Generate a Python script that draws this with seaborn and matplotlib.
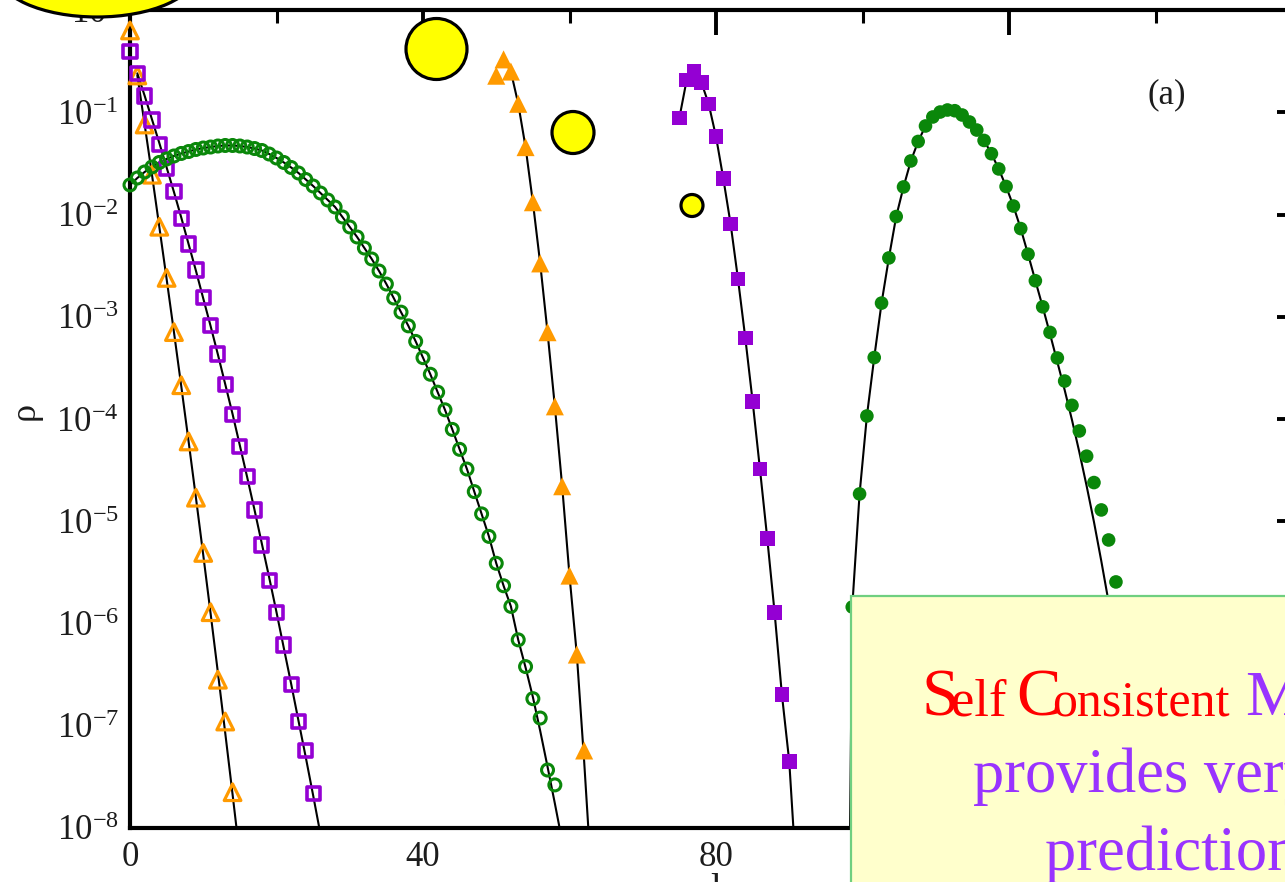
import matplotlib
matplotlib.use("Agg")
import matplotlib.pyplot as plt
import seaborn as sns
import numpy as np
from matplotlib.patches import Ellipse, Rectangle
from matplotlib.ticker import LogLocator, MultipleLocator, NullFormatter

# ---------------- data ----------------
# open triangles (left orange) and their model curve
n_tri_open = list(range(0, 15))
rho_tri_open = [0.631, 0.229, 0.0759, 0.0245, 0.00759, 0.0024, 7.08e-4, 2.14e-4,
                6.03e-5, 1.70e-5, 4.90e-6, 1.29e-6, 2.82e-7, 1.10e-7, 2.24e-8]
n_tri_open_fit = list(range(1, 16))
rho_tri_open_fit = [0.229, 0.0759, 0.0245, 0.00759, 0.00234, 7.08e-4, 2.09e-4, 6.03e-5,
                    1.70e-5, 4.68e-6, 1.26e-6, 3.31e-7, 8.51e-8, 2.14e-8, 5.25e-9]

# open squares (left purple)
n_sq_open = list(range(0, 26))
rho_sq_open = [0.391, 0.240, 0.144, 0.0839, 0.0486, 0.0283, 0.0167, 0.00918, 0.00515,
               0.00286, 0.00155, 8.17e-4, 4.33e-4, 2.18e-4, 1.11e-4, 5.36e-5, 2.73e-5,
               1.29e-5, 5.86e-6, 2.62e-6, 1.28e-6, 6.17e-7, 2.51e-7, 1.11e-7, 5.70e-8, 2.18e-8]
n_sq_open_fit = list(range(1, 27))
rho_sq_open_fit = [0.240, 0.145, 0.0851, 0.0501, 0.0288, 0.0166, 0.00933, 0.00513, 0.00282,
                   0.00151, 8.13e-4, 4.27e-4, 2.19e-4, 1.12e-4, 5.50e-5, 2.69e-5, 1.29e-5,
                   6.03e-6, 2.82e-6, 1.29e-6, 5.75e-7, 2.57e-7, 1.12e-7, 4.90e-8, 2.09e-8, 8.71e-9]

# open circles (left green)
n_circ_open = list(range(0, 59))
rho_circ_open = [0.01945, 0.02275, 0.02606, 0.02917, 0.03228, 0.03493, 0.03735, 0.03954,
                 0.0413, 0.04325, 0.0447, 0.04571, 0.04677, 0.04732, 0.04732, 0.04677,
                 0.04571, 0.04419, 0.04227, 0.03906, 0.0357, 0.03228, 0.02883, 0.02547,
                 0.022, 0.019, 0.01623, 0.01386, 0.01184, 0.009454, 0.007551, 0.00603,
                 0.004702, 0.003672, 0.002801, 0.002089, 0.001525, 1.109e-3, 8.15e-4,
                 5.74e-4, 3.98e-4, 2.74e-4, 1.83e-4, 1.23e-4, 7.91e-5, 5.05e-5, 3.24e-5,
                 1.95e-5, 1.18e-5, 7.11e-6, 3.88e-6, 2.34e-6, 1.47e-6, 6.92e-7, 3.79e-7,
                 1.84e-7, 1.19e-7, 3.69e-8, 2.64e-8]
n_circ_open_fit = list(range(0, 60))
rho_circ_open_fit = [0.01945, 0.02275, 0.02606, 0.02917, 0.03228, 0.03493, 0.03735, 0.03954,
                     0.0413, 0.04325, 0.0447, 0.04571, 0.04677, 0.04732, 0.04732, 0.04677,
                     0.04571, 0.04419, 0.04227, 0.03906, 0.0357, 0.03228, 0.02883, 0.02547,
                     0.022, 0.019, 0.01623, 0.01386, 0.01184, 0.009454, 0.007551, 0.00603,
                     0.004702, 0.003672, 0.002801, 0.002089, 0.001525, 1.109e-3, 8.15e-4,
                     5.74e-4, 3.98e-4, 2.74e-4, 1.83e-4, 1.23e-4, 7.91e-5, 5.05e-5, 3.24e-5,
                     1.95e-5, 1.18e-5, 7.11e-6, 3.88e-6, 2.34e-6, 1.47e-6, 6.92e-7, 3.72e-7,
                     1.91e-7, 8.91e-8, 3.98e-8, 1.74e-8, 7.41e-9]

# filled triangles (right orange)
n_tri_full = list(range(50, 63))
rho_tri_full = [0.2277, 0.3289, 0.25, 0.121, 0.0456, 0.01318, 0.003324, 7.06e-4,
                1.33e-4, 2.20e-5, 2.94e-6, 4.97e-7, 5.73e-8]
n_tri_full_fit = list(range(51, 64))
rho_tri_full_fit = [0.3289, 0.25, 0.121, 0.0456, 0.01318, 0.003324, 7.06e-4, 1.33e-4,
                    2.20e-5, 2.94e-6, 4.97e-7, 4.5e-8, 3.2e-9]

# filled squares (right purple)
n_sq_full = list(range(75, 91))
rho_sq_full = [0.0881, 0.2077, 0.2525, 0.1963, 0.1205, 0.0579, 0.02244, 0.00804,
               0.002345, 6.20e-4, 1.49e-4, 3.24e-5, 6.76e-6, 1.28e-6, 2.01e-7, 4.47e-8]
n_sq_full_fit = list(range(75, 92))
rho_sq_full_fit = [0.0881, 0.2077, 0.2525, 0.1963, 0.1205, 0.0579, 0.02244, 0.00804,
                   0.002345, 6.20e-4, 1.49e-4, 3.24e-5, 6.76e-6, 1.28e-6, 2.01e-7,
                   4.47e-8, 3.16e-9]

# filled circles (right green), sampled on a half-shifted grid
n_circ_full = [round(98.6 + k, 1) for k in range(37)]
rho_circ_full = [1.45e-6, 1.85e-5, 1.07e-4, 3.99e-4, 1.36e-3, 3.76e-3, 9.55e-3, 0.0186,
                 0.0334, 0.0518, 0.0734, 0.0899, 0.1005, 0.1052, 0.1035, 0.0940, 0.0803,
                 0.0670, 0.0530, 0.0393, 0.0279, 0.0188, 0.0121, 0.00728, 0.00409,
                 0.00225, 0.00125, 7.03e-4, 3.95e-4, 2.35e-4, 1.36e-4, 7.64e-5, 4.33e-5,
                 2.39e-5, 1.29e-5, 6.56e-6, 2.55e-6]
n_circ_full_fit = [98.3] + [round(98.6 + k, 1) for k in range(37)]
rho_circ_full_fit = [1.0e-8, 1.45e-6, 1.85e-5, 1.07e-4, 3.99e-4, 1.36e-3, 3.76e-3, 9.55e-3,
                     0.0186, 0.0334, 0.0518, 0.0734, 0.0899, 0.1005, 0.1052, 0.1035, 0.0940,
                     0.0803, 0.0670, 0.0530, 0.0393, 0.0279, 0.0188, 0.0121, 0.00728,
                     0.00409, 0.00225, 0.00125, 6.78e-4, 3.61e-4, 1.92e-4, 9.77e-5, 4.75e-5,
                     2.21e-5, 9.84e-6, 4.08e-6, 1.62e-6, 6.17e-7]

x_ticks = [0, 40, 80, 120, 160]
panel_tag = "(a)"
note_lines = ["provides very good", "predictions"]

# ---------------- style ----------------
sns.set_theme(style="white")
plt.rcParams["font.family"] = ["Liberation Serif", "DejaVu Serif"]
plt.rcParams["mathtext.fontset"] = "custom"
plt.rcParams["mathtext.rm"] = "Liberation Serif"
plt.rcParams["mathtext.it"] = "Liberation Serif:italic"
plt.rcParams["mathtext.bf"] = "Liberation Serif:bold"

ORANGE = "#ff9a00"
PURPLE = "#9400d3"
GREEN = "#0a870a"
INK = "#1c1c1c"

W, H = 1285, 882
fig = plt.figure(figsize=(W / 100, H / 100), dpi=100)
fig.patch.set_facecolor("white")
ax = fig.add_axes([130 / W, 54 / H, 1172 / W, 818 / H])
ax.set_facecolor("white")
ax.set_yscale("log")
ax.set_xlim(0, 160)
ax.set_ylim(1e-8, 1)

# model curves
for xs, ys in [(n_tri_open_fit, rho_tri_open_fit), (n_sq_open_fit, rho_sq_open_fit),
               (n_circ_open_fit, rho_circ_open_fit), (n_tri_full_fit, rho_tri_full_fit),
               (n_sq_full_fit, rho_sq_full_fit), (n_circ_full_fit, rho_circ_full_fit)]:
    sns.lineplot(x=xs, y=ys, ax=ax, color="black", lw=1.5, estimator=None,
                 sort=False, zorder=2, legend=False)


def draw_points(xs, ys, marker, color, ms, hollow, ew=0.0):
    sns.scatterplot(x=xs, y=ys, ax=ax, marker=marker, s=ms ** 2, color=color,
                    zorder=3, clip_on=False, legend=False)
    coll = ax.collections[-1]
    if hollow:
        coll.set_facecolor("none")
        coll.set_edgecolor(color)
        coll.set_linewidth(ew)
    else:
        coll.set_facecolor(color)
        coll.set_edgecolor("none")
        coll.set_linewidth(0)


draw_points(n_tri_open, rho_tri_open, "^", ORANGE, 12, True, 2.3)
draw_points(n_sq_open, rho_sq_open, "s", PURPLE, 9.5, True, 2.6)
draw_points(n_circ_open, rho_circ_open, "o", GREEN, 8.6, True, 2.2)
draw_points(n_tri_full, rho_tri_full, "^", ORANGE, 13, False)
draw_points(n_sq_full, rho_sq_full, "s", PURPLE, 10.5, False)
draw_points(n_circ_full, rho_circ_full, "o", GREEN, 9.8, False)

# axes frame and ticks
for sp in ax.spines.values():
    sp.set_visible(True)
    sp.set_color("black")
    sp.set_linewidth(3.0)

ax.set_xticks(x_ticks)
ax.xaxis.set_minor_locator(MultipleLocator(20))
ax.yaxis.set_major_locator(LogLocator(base=10, numticks=20))
ax.yaxis.set_minor_locator(LogLocator(base=10, subs=np.arange(2, 10), numticks=20))
ax.yaxis.set_minor_formatter(NullFormatter())
ax.tick_params(axis="both", which="both", direction="in", top=True, right=True,
               colors="black", labelcolor=INK, labelsize=25)
ax.tick_params(which="major", length=18, width=2.8)
ax.tick_params(which="minor", length=10, width=2.2)
ax.tick_params(axis="x", which="minor", length=9)
ax.tick_params(axis="x", pad=9)
ax.tick_params(axis="y", pad=8)

ax.set_ylabel("ρ", fontsize=26, color=INK)
ax.yaxis.set_label_coords(-0.075, 0.51)
ax.set_xlabel("l", fontsize=28, color=INK)
ax.xaxis.set_label_coords(0.5, -0.055)

fig.text(1167 / W, 1 - 95 / H, panel_tag, fontsize=25, color=INK, ha="center", va="center")

# yellow call-out bubbles
for cx, cy, dw, dh in [(97, -28, 200, 90), (436.5, 49, 61, 61), (573, 132.5, 42, 42),
                       (692, 205.5, 22, 22)]:
    fig.add_artist(Ellipse((cx / W, 1 - cy / H), dw / W, dh / H, transform=fig.transFigure,
                           facecolor="#ffff00", edgecolor="black", lw=2.3, zorder=20,
                           clip_on=False))

# note box
fig.add_artist(Rectangle((851 / W, -0.05), (1320 - 851) / W, (882 - 595.5) / H + 0.05,
                         transform=fig.transFigure, facecolor="#ffffcc",
                         edgecolor="#6fcf80", lw=1.6, zorder=20, clip_on=False))

RED = "#ff0000"
VIOLET = "#9933ff"
y1 = 1 - 715 / H
for xpx, txt, size, col in [(921, "S", 48, RED), (951, "elf", 38, RED),
                            (1016, "C", 48, RED), (1052, "onsistent", 36, RED),
                            (1245, "M", 46, VIOLET)]:
    fig.text(xpx / W, y1, txt, fontsize=size, color=col, ha="left", va="baseline", zorder=21)
fig.text(973 / W, 1 - 792 / H, note_lines[0], fontsize=45, color=VIOLET,
         ha="left", va="baseline", zorder=21)
fig.text(1045 / W, 1 - 870 / H, note_lines[1], fontsize=45, color=VIOLET,
         ha="left", va="baseline", zorder=21)

fig.savefig("out.png", dpi=100, facecolor="white")
